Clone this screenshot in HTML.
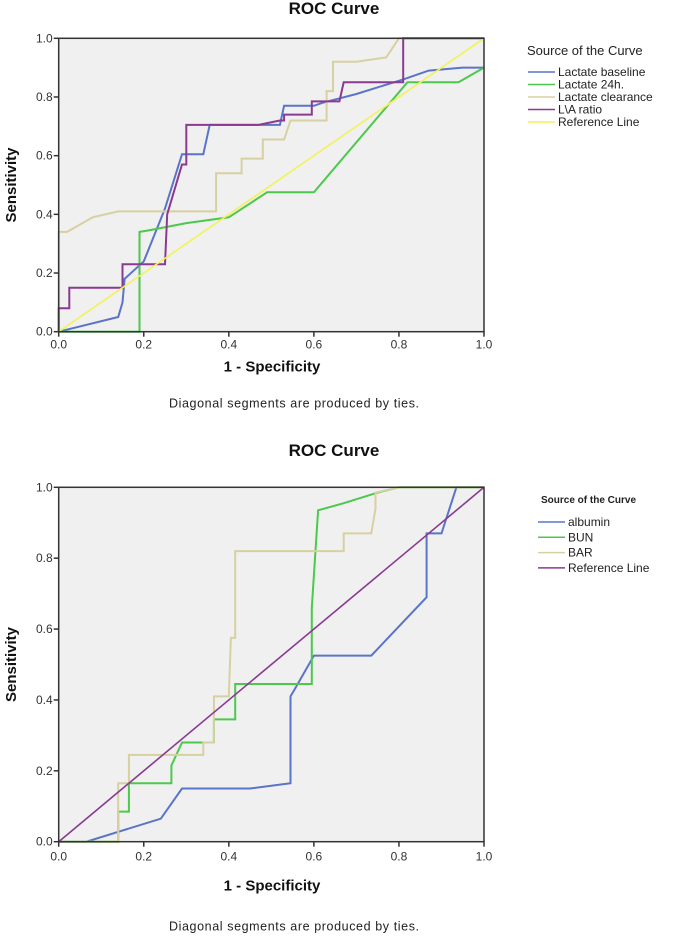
<!DOCTYPE html>
<html><head><meta charset="utf-8">
<style>
body{margin:0;background:#fff;width:685px;height:940px;overflow:hidden;font-family:"Liberation Sans",sans-serif}
svg{display:block}
</style></head>
<body>
<svg id="svg" width="685" height="940"></svg>
<script>
// ---------- Chart 1 data ----------
const c1Ticks = [0, 0.2, 0.4, 0.6, 0.8, 1.0];
const c1LabBaseX = [0,0.14,0.15,0.155,0.2,0.25,0.29,0.34,0.355,0.52,0.53,0.6,0.62,0.7,0.81,0.87,0.95,1];
const c1LabBaseY = [0,0.05,0.1,0.18,0.24,0.42,0.605,0.605,0.705,0.705,0.77,0.77,0.78,0.81,0.86,0.89,0.9,0.9];
const c1Lab24X = [0,0.19,0.19,0.21,0.3,0.4,0.49,0.6,0.82,0.94,1];
const c1Lab24Y = [0,0,0.34,0.345,0.37,0.39,0.475,0.475,0.85,0.85,0.9];
const c1ClearX = [0,0,0.02,0.08,0.14,0.37,0.37,0.43,0.43,0.48,0.48,0.53,0.545,0.63,0.63,0.645,0.645,0.7,0.77,0.8,1];
const c1ClearY = [0,0.34,0.34,0.39,0.41,0.41,0.54,0.54,0.59,0.59,0.655,0.655,0.72,0.72,0.82,0.82,0.92,0.92,0.935,1,1];
const c1RatioX = [0,0,0.025,0.025,0.15,0.15,0.25,0.255,0.29,0.3,0.3,0.47,0.52,0.53,0.53,0.595,0.595,0.66,0.67,0.81,0.81,1];
const c1RatioY = [0,0.08,0.08,0.15,0.15,0.23,0.23,0.4,0.57,0.57,0.705,0.705,0.72,0.72,0.74,0.74,0.785,0.785,0.85,0.85,1,1];
const c1RefX = [0,1];
const c1RefY = [0,1];
const c1Names = ["Lactate baseline","Lactate 24h.","Lactate clearance","L\\A ratio","Reference Line"];
// ---------- Chart 2 data ----------
const c2AlbX = [0,0.065,0.24,0.29,0.45,0.545,0.545,0.555,0.6,0.735,0.865,0.865,0.9,0.935,1];
const c2AlbY = [0,0,0.065,0.15,0.15,0.165,0.41,0.43,0.525,0.525,0.69,0.87,0.87,1,1];
const c2BunX = [0,0.14,0.14,0.165,0.165,0.265,0.265,0.29,0.365,0.365,0.415,0.415,0.595,0.595,0.61,0.67,0.75,0.8,1];
const c2BunY = [0,0,0.085,0.085,0.165,0.165,0.215,0.28,0.28,0.345,0.345,0.445,0.445,0.66,0.935,0.955,0.985,1,1];
const c2BarX = [0,0.14,0.14,0.165,0.165,0.34,0.34,0.365,0.365,0.4,0.405,0.415,0.415,0.67,0.67,0.735,0.745,0.745,0.8,1];
const c2BarY = [0,0,0.165,0.165,0.245,0.245,0.28,0.28,0.41,0.41,0.575,0.575,0.82,0.82,0.87,0.87,0.94,0.985,1,1];
const c2RefX = [0,1];
const c2RefY = [0,1];
const c2Names = ["albumin","BUN","BAR","Reference Line"];

const NS="http://www.w3.org/2000/svg";
const svg=document.getElementById('svg');
function mk(tag,attrs,parent,text){const e=document.createElementNS(NS,tag);for(const k in attrs)e.setAttribute(k,attrs[k]);if(text!==undefined)e.textContent=text;(parent||svg).appendChild(e);return e;}

function chart(id,L,R,T,B,series,names,colors,legend,off){
  const g=mk('g',{});
  
  
  const sx=v=>L+v*(R-L), sy=v=>B-v*(B-T);
  const bg=mk('rect',{x:L,y:T,width:R-L,height:B-T,fill:'#f0f0f0'},g);
  
  
  series.forEach((s,i)=>{
    const pts=s[0].map((x,j)=>sx(x).toFixed(1)+','+sy(s[1][j]).toFixed(1)).join(' ');
    const p=mk('polyline',{points:pts,fill:'none',stroke:colors[i],'stroke-width':i===series.length-1?1.6:2,'stroke-linejoin':'miter'},g);
    
    
  });
  const fr=mk('rect',{x:L,y:T,width:R-L,height:B-T,fill:'none',stroke:'#333','stroke-width':1.5},g);
  
  
  c1Ticks.forEach(t=>{
    mk('line',{x1:L-5,x2:L,y1:sy(t),y2:sy(t),stroke:'#333','stroke-width':1.5},g);
    const yl=mk('text',{x:L-6,y:sy(t)+4,'text-anchor':'end','font-size':12,fill:'#333'},g,t.toFixed(1));
    
    
    mk('line',{x1:sx(t),x2:sx(t),y1:B,y2:B+5,stroke:'#333','stroke-width':1.5},g);
    const xl=mk('text',{x:sx(t),y:B+off.tick,'text-anchor':'middle','font-size':12,fill:'#333'},g,t.toFixed(1));
    
    
  });
  const xt=mk('text',{x:272,y:B+off.title,'text-anchor':'middle','font-size':15,'font-weight':'bold',fill:'#111'},g,'1 - Specificity');
  
  
  const cy=(T+B)/2;
  const yt=mk('text',{x:16,y:cy,'text-anchor':'middle','font-size':15,'font-weight':'bold',fill:'#111',transform:`rotate(-90 16 ${cy})`},g,'Sensitivity');
  
  
  const fn=mk('text',{x:169,y:B+off.foot,'font-size':12.5,fill:'#222','letter-spacing':'0.6'},g,'Diagonal segments are produced by ties.');
  
  
  const lg=mk('g',{},g);
  
  
  const lt=mk('text',{x:legend.tx,y:legend.ty,'font-size':legend.tfs,fill:'#222','font-weight':legend.tbold?'bold':'normal'},lg,'Source of the Curve');
  
  
  names.forEach((n,i)=>{
    const y=legend.y0+i*legend.dy;
    mk('line',{x1:legend.lx,x2:legend.lx+27,y1:y,y2:y,stroke:colors[i],'stroke-width':1.5},lg);
    const e=mk('text',{x:legend.lx+30,y:y+4,'font-size':legend.fs,fill:'#222'},lg,n);
    
    
  });
}
function title(y){
  const t=mk('text',{x:334,y:y,'text-anchor':'middle','font-size':17,'font-weight':'bold',fill:'#111'},svg,'ROC Curve');
  
  
}
title(14);
chart('roc-chart-lactate',58.7,484,38.3,331.7,
  [[c1LabBaseX,c1LabBaseY],[c1Lab24X,c1Lab24Y],[c1ClearX,c1ClearY],[c1RatioX,c1RatioY],[c1RefX,c1RefY]],
  c1Names,['#5a74c8','#4cc84c','#d8d0a0','#8a3a92','#f2f25a'],
  {tx:527,ty:55,tfs:13,tbold:false,lx:528,y0:72,dy:12.5,fs:12},
  {tick:17,title:40,foot:76});
title(456);
chart('roc-chart-albumin',58.7,484,487.3,841.7,
  [[c2AlbX,c2AlbY],[c2BunX,c2BunY],[c2BarX,c2BarY],[c2RefX,c2RefY]],
  c2Names,['#5a74c8','#4cc84c','#d8d0a0','#8a3a92'],
  {tx:541,ty:503,tfs:10,tbold:true,lx:538,y0:522,dy:15.3,fs:12},
  {tick:19,title:49,foot:89});
</script>
</body></html>
